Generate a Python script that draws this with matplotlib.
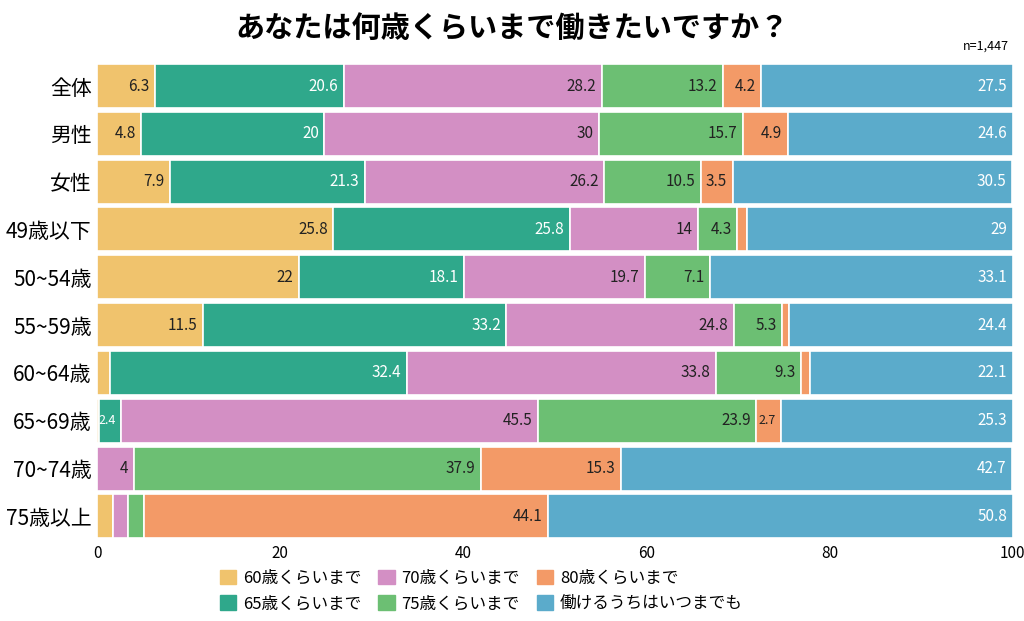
import numpy as np
import matplotlib.pyplot as plt
from matplotlib.patches import Patch

plt.rcParams['font.family'] = ['Noto Sans CJK JP', 'DejaVu Sans']

# data
groups = ['全体', '男性', '女性', '49歳以下', '50~54歳', '55~59歳', '60~64歳', '65~69歳', '70~74歳', '75歳以上']
series = ['60歳くらいまで', '65歳くらいまで', '70歳くらいまで', '75歳くらいまで', '80歳くらいまで', '働けるうちはいつまでも']
age60 = [6.3, 4.8, 7.9, 25.8, 22, 11.5, 1.4, 0.2, 0, 1.7]
age65 = [20.6, 20, 21.3, 25.8, 18.1, 33.2, 32.4, 2.4, 0, 0]
age70 = [28.2, 30, 26.2, 14, 19.7, 24.8, 33.8, 45.5, 4, 1.7]
age75 = [13.2, 15.7, 10.5, 4.3, 7.1, 5.3, 9.3, 23.9, 37.9, 1.7]
age80 = [4.2, 4.9, 3.5, 1.1, 0, 0.8, 1.0, 2.7, 15.3, 44.1]
forever = [27.5, 24.6, 30.5, 29, 33.1, 24.4, 22.1, 25.3, 42.7, 50.8]

colors = ['#f0c36d', '#2fa88b', '#d38fc4', '#6cbf73', '#f39a67', '#5babcb']
text_colors = ['#222222', 'white', '#222222', '#222222', '#222222', 'white']
values = [age60, age65, age70, age75, age80, forever]

fig = plt.figure(figsize=(10.24, 6.21), dpi=100)
ax = fig.add_axes([0.095, 0.13, 0.894, 0.77])

y = np.arange(len(groups))
left = np.zeros(len(groups))
for vals, c, tc in zip(values, colors, text_colors):
    vals = np.array(vals, dtype=float)
    ax.barh(y, vals, left=left, color=c, height=0.92, edgecolor='white', linewidth=1.2)
    for yi, (l, v) in enumerate(zip(left, vals)):
        if v >= 2.2:
            fs = 9 if v < 3 else 11
            ax.text(l + v - 0.6, yi, f'{v:g}', ha='right', va='center', color=tc, fontsize=fs)
    left += vals

ax.set_xlim(0, 100)
ax.set_ylim(len(groups) - 0.5, -0.5)
ax.set_yticks(y)
ax.set_yticklabels(groups, fontsize=15)
ax.set_xticks([0, 20, 40, 60, 80, 100])
ax.tick_params(axis='x', labelsize=11, length=0)
ax.tick_params(axis='y', length=0, pad=4)
for s in ax.spines.values():
    s.set_visible(False)

fig.text(0.5, 0.955, 'あなたは何歳くらいまで働きたいですか？', ha='center', va='center',
         fontsize=21, fontweight='bold')
fig.text(0.985, 0.925, 'n=1,447', ha='right', va='center', fontsize=9)

handles = [Patch(color=c) for c in colors]
fig.legend(handles, series, loc='lower center', bbox_to_anchor=(0.47, -0.01), ncol=3,
           frameon=False, fontsize=12, handlelength=1.0, handleheight=1.0,
           columnspacing=1.0, handletextpad=0.4, labelspacing=0.5)

fig.savefig('out.png', dpi=100)
